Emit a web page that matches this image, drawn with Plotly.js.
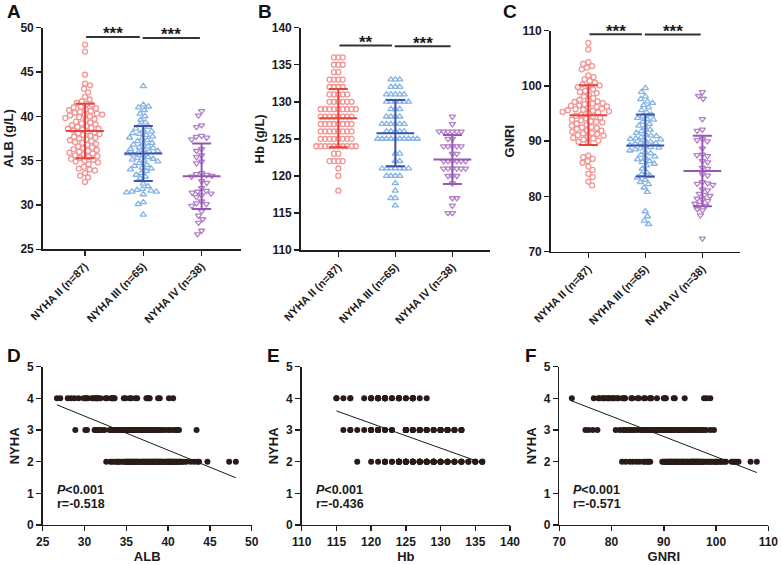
<!DOCTYPE html>
<html>
<head>
<meta charset="utf-8">
<script src="https://cdn.plot.ly/plotly-3.0.1.min.js"></script>
<style>
  html, body { margin: 0; padding: 0; background: #fff; }
  #chart { width: 782px; height: 565px; }
</style>
</head>
<body>
<div id="chart"></div>
<script>
// NYHA groups and their class number
const groups = ['NYHA II (n=87)', 'NYHA III (n=65)', 'NYHA IV (n=38)'];
const nyhaClass = [2, 3, 4];

// Serum albumin (g/L)
const albII = [48.1, 47.3, 44.7, 43.7, 43.5, 43.1, 42.7, 42.2,
  41.9, 41.7, 41.5, 41.4, 41.3, 41.1, 41.0,
  40.9, 40.8, 40.7, 40.5, 40.4, 40.3, 40.2, 40.2, 40.1, 40.0, 40.6,
  39.9, 39.8, 39.7, 39.6, 39.4, 39.3, 39.2, 39.1, 39.0, 35.6,
  38.9, 38.8, 38.7, 38.6, 38.5, 38.4, 38.3, 38.2, 38.1, 38.0, 38.6,
  37.9, 37.8, 37.6, 37.5, 37.4, 37.3, 37.2, 37.1, 37.0, 37.7,
  36.9, 36.8, 36.6, 36.5, 36.4, 36.3, 36.2, 36.1, 36.0,
  35.9, 35.8, 35.7, 35.5, 35.4, 35.3, 35.2, 35.1, 35.0,
  34.9, 34.8, 34.6, 34.3, 34.1, 34.0,
  33.9, 33.6, 33.3, 33.1, 32.6];
const albIII = [43.4, 41.3, 41.1, 41.0, 40.7, 40.3, 40.0, 39.6, 39.3, 39.0,
  38.8, 38.6, 38.4, 38.3, 38.1, 38.0,
  37.9, 37.7, 37.5, 37.3, 37.2, 37.0, 37.6,
  36.9, 36.8, 36.6, 36.5, 36.4, 36.3, 36.2, 36.1, 36.0,
  35.9, 35.8, 35.7, 35.6, 35.4, 35.3, 35.2, 35.1, 35.0,
  34.9, 34.7, 34.5, 34.4, 34.2, 34.1, 34.0,
  33.8, 33.6, 33.4, 33.2, 33.0, 32.4, 32.1,
  31.8, 31.7, 31.6, 31.5, 31.5, 31.4, 31.2, 30.3, 30.1, 28.9];
const albIV = [40.6, 40.1, 39.0, 38.8, 37.8, 37.7, 37.6, 37.4, 36.3, 36.1,
  35.6, 35.4, 34.9, 34.7, 33.6, 33.5, 33.4, 33.3, 33.2, 32.7, 32.5,
  31.9, 31.6, 31.5, 31.4, 31.3, 31.1, 30.9, 30.4, 30.2, 30.1,
  29.9, 29.3, 28.8, 28.0, 28.4, 27.1, 26.7];

// Haemoglobin (g/L)
const hbII = [136, 136, 136, 135, 135, 135, 134, 134,
  133, 133, 133, 133, 132, 132, 132, 132,
  131, 131, 131, 131, 131, 130, 130, 130, 130, 130, 130,
  129, 129, 129, 129, 129, 129, 129, 129, 129,
  128, 128, 128, 128, 128, 128, 128, 128,
  127, 127, 127, 127, 127, 127, 127, 127,
  126, 126, 126, 126, 126, 126, 126, 126,
  125, 125, 125, 125, 125, 125, 125, 125,
  124, 124, 124, 124, 124, 124, 124, 124, 124, 124,
  123, 123, 122, 122, 122, 122, 121, 120, 118];
const hbIII = [133, 133, 133, 132, 132, 132, 131, 131, 131, 131, 131,
  130, 130, 130, 130, 130, 130, 129, 129, 129, 128, 128, 128, 128,
  127, 127, 127, 127, 127, 127, 126, 126, 126, 126, 126,
  125, 125, 125, 125, 125, 125, 125, 125, 125, 125,
  123, 123, 122, 122, 121, 121, 121, 121, 121, 121, 121,
  120, 120, 120, 120, 119, 118, 117, 117, 116];
const hbIV = [128, 127, 126, 126, 126, 126, 126, 126, 125, 125,
  124, 124, 124, 124, 124, 123, 123, 122, 122, 122, 122, 122, 122,
  121, 121, 121, 121, 121, 121, 120, 120, 120, 119, 117, 117, 116, 115, 115];

// Geriatric nutritional risk index
const gnriII = [107.8, 106.6, 104.3, 104.0, 103.6, 103.3, 103.0, 101.9, 101.6, 101.2, 100.9, 100.3, 100.1,
  100.6, 99.8, 99.4, 99.1, 98.7, 98.4, 98.1, 97.8, 97.5, 97.4, 97.2, 97.1, 99.9, 98.9,
  96.9, 96.8, 96.7, 96.5, 96.4, 96.3, 96.2, 96.0, 95.9, 95.8, 95.7, 95.6, 95.5, 95.4, 95.3, 95.2,
  95.0, 94.8, 94.6, 94.5,
  94.3, 94.1, 93.9, 93.8, 93.6, 93.5, 93.4, 93.2, 93.0, 92.8, 92.6, 92.5, 92.4, 92.2, 92.0,
  91.9, 91.7, 91.5, 91.4, 91.3, 91.1, 91.0, 90.8, 90.6, 90.5, 90.3, 90.1, 89.9, 89.7,
  87.4, 87.1, 86.8, 86.4, 86.1, 85.4, 84.8, 84.1, 83.5, 82.7, 82.0];
const gnriIII = [99.6, 98.9, 98.1, 97.6, 97.2, 96.9, 96.5, 96.1, 95.6, 95.2,
  94.8, 94.5, 94.2, 94.0, 93.9, 93.5, 93.1, 92.8, 92.5, 92.1, 91.8,
  91.5, 91.2, 91.0, 90.9, 90.7, 90.5, 90.4, 90.3, 90.1, 89.9, 89.7, 89.6, 89.5,
  89.3, 89.1, 88.9, 88.8, 88.7, 88.5, 88.3, 88.0, 87.8, 87.5, 87.2,
  87.0, 86.7, 86.4, 86.2, 85.9, 85.6, 85.0, 84.4,
  84.0, 83.7, 83.4, 83.0, 82.6, 82.2, 81.6, 80.8, 77.3, 76.4, 75.6, 75.0];
const gnriIV = [98.9, 98.2, 97.7, 94.0, 92.1, 91.9, 90.4, 90.2, 90.0, 88.7,
  87.6, 87.5, 87.3, 86.4, 86.2, 85.2, 85.0, 84.0, 83.8,
  82.6, 82.4, 82.3, 82.1, 81.3, 81.1, 80.5, 80.3, 80.1,
  79.6, 79.4, 79.2, 78.7, 78.5, 78.3, 77.7, 77.5, 76.6, 72.4];

// Significance marks between neighbouring groups
const sigLabels = [['***', '***'], ['**', '***'], ['***', '***']];
const corrP = ['&lt;0.001', '&lt;0.001', '&lt;0.001'];
const corrR = ['-0.518', '-0.436', '-0.571'];

// ---------------------------------------------------------------- layout setup
const W = 782, H = 565;
const font = { family: 'Liberation Sans, Arial, sans-serif', color: '#1a1a1a', weight: 700 };
const pointColors = ['#F39393', '#86B5E6', '#B482C8'];
const lineColors = ['#E8423D', '#3B52A8', '#9657B3'];
const symbols = ['circle-open', 'triangle-up-open', 'triangle-down-open'];

const panels = [
  { data: [albII, albIII, albIV], title: 'ALB (g/L)', xname: 'ALB',
    xdom: [0.0546, 0.3078], ydom: [0.5588, 0.951], xr: [-0.725, 2.67], yr: [25, 50], dtick: 5,
    sigY: [48.95, 48.85], bx: [25, 50], bdtick: 5, bxdom: [0.0546, 0.3219], letter: 'A', blabel: 'D',
    diam: 5.4 },
  { data: [hbII, hbIII, hbIV], title: 'Hb (g/L)', xname: 'Hb',
    xdom: [0.3845, 0.6266], ydom: [0.5575, 0.951], xr: [-0.66, 2.66], yr: [110, 140], dtick: 5,
    sigY: [137.6, 137.5], bx: [110, 140], bdtick: 5, bxdom: [0.3858, 0.6522], letter: 'B', blabel: 'E',
    diam: 4.4 },
  { data: [gnriII, gnriIII, gnriIV], title: 'GNRI', xname: 'GNRI',
    xdom: [0.7042, 0.9463], ydom: [0.5545, 0.9457], xr: [-0.66, 2.66], yr: [70, 110], dtick: 10,
    sigY: [109.35, 109.3], bx: [70, 110], bdtick: 10, bxdom: [0.7152, 0.9825], letter: 'C', blabel: 'F',
    diam: 5.4 }
];
const sigSpans = [[0.02, 0.94], [0.99, 1.97]];
const letterPos = { A: [14, 12], B: [265, 12], C: [510, 12], D: [14, 355], E: [273, 355], F: [531, 355] };
const bottomYDom = [0.0708, 0.351];

// Beeswarm: place each point as close to the group centre as possible without overlap
function swarm(values, pxX, pxY, diam) {
  const order = values.map((v, i) => i).sort((a, b) => values[b] - values[a]);
  const placed = [];
  const off = new Array(values.length);
  order.forEach((i, k) => {
    const y = values[i] * pxY;
    const near = placed.filter(p => Math.abs(p.y - y) < diam);
    const cands = [0];
    near.forEach(p => {
      const dx = Math.sqrt(diam * diam - (p.y - y) * (p.y - y));
      cands.push(p.x + dx, p.x - dx);
    });
    const side = k % 2 ? 1 : -1;
    cands.sort((a, b) => (Math.abs(a) - Math.abs(b)) || (side * (a - b)));
    const x = cands.find(c => near.every(p => (p.x - c) ** 2 + (p.y - y) ** 2 >= diam * diam - 1e-6));
    placed.push({ x, y });
    off[i] = x / pxX;
  });
  return off;
}

const mean = a => a.reduce((s, v) => s + v, 0) / a.length;
const sd = a => { const m = mean(a); return Math.sqrt(a.reduce((s, v) => s + (v - m) ** 2, 0) / (a.length - 1)); };

const traces = [];
const layout = {
  width: W, height: H,
  margin: { l: 0, r: 0, t: 0, b: 0 },
  paper_bgcolor: '#fff', plot_bgcolor: '#fff',
  showlegend: false,
  font: font,
  shapes: [], annotations: []
};

function axisBase() {
  return {
    showline: true, linecolor: '#1e1e1e', linewidth: 1.5,
    ticks: 'outside', ticklen: 5, tickwidth: 1.5, tickcolor: '#1e1e1e',
    showgrid: false, zeroline: false, fixedrange: true,
    tickfont: { family: font.family, size: 12, color: '#1a1a1a', weight: 700 }
  };
}

panels.forEach((p, k) => {
  const n = k + 1, nb = k + 4;
  const xs = n === 1 ? '' : String(n);
  const xa = 'xaxis' + xs, ya = 'yaxis' + xs;
  const xb = 'xaxis' + nb, yb = 'yaxis' + nb;

  // ---- top panel: group dot plot
  layout[xa] = Object.assign(axisBase(), {
    domain: p.xdom, range: p.xr, anchor: 'y' + xs,
    tickvals: [0, 1, 2], ticktext: groups, tickangle: -45,
    tickfont: { family: font.family, size: 11, color: '#1a1a1a', weight: 700 }
  });
  layout[ya] = Object.assign(axisBase(), {
    domain: p.ydom, range: p.yr, dtick: p.dtick, anchor: 'x' + xs,
    title: { text: p.title, standoff: 4, font: { family: font.family, size: 13, color: '#1a1a1a', weight: 700 } }
  });
  const pxX = (p.xdom[1] - p.xdom[0]) * W / (p.xr[1] - p.xr[0]);
  const pxY = (p.ydom[1] - p.ydom[0]) * H / (p.yr[1] - p.yr[0]);

  p.data.forEach((vals, g) => {
    const off = swarm(vals, pxX, pxY, p.diam);
    traces.push({
      type: 'scatter', mode: 'markers', xaxis: 'x' + xs, yaxis: 'y' + xs,
      x: vals.map((v, i) => g + off[i]), y: vals, cliponaxis: false,
      marker: { symbol: symbols[g], size: g === 0 ? 5 : 5.6, color: pointColors[g],
                line: { color: pointColors[g], width: 1.3 } },
      hoverinfo: 'skip'
    });
  });
  p.data.forEach((vals, g) => {
    traces.push({
      type: 'scatter', mode: 'markers', xaxis: 'x' + xs, yaxis: 'y' + xs,
      x: [g], y: [mean(vals)], cliponaxis: false,
      marker: { symbol: 'line-ew-open', size: 27, color: lineColors[g],
                line: { color: lineColors[g], width: 2 } },
      error_y: { type: 'data', array: [sd(vals)], visible: true, color: lineColors[g], thickness: 2, width: 9.5 },
      hoverinfo: 'skip'
    });
  });

  sigSpans.forEach((s, j) => {
    layout.shapes.push({ type: 'line', xref: 'x' + xs, yref: 'y' + xs,
      x0: s[0], x1: s[1], y0: p.sigY[j], y1: p.sigY[j], line: { color: '#333', width: 2 } });
    layout.annotations.push({ xref: 'x' + xs, yref: 'y' + xs, x: (s[0] + s[1]) / 2, y: p.sigY[j],
      text: sigLabels[k][j], showarrow: false, yanchor: 'middle', yshift: 3,
      font: { family: font.family, size: 17, color: '#1a1a1a', weight: 700 } });
  });

  // ---- bottom panel: NYHA class against the marker, with least-squares line
  layout[xb] = Object.assign(axisBase(), {
    domain: p.bxdom, range: p.bx, dtick: p.bdtick, anchor: 'y' + nb,
    title: { text: p.xname, standoff: 4, font: { family: font.family, size: 13, color: '#1a1a1a', weight: 700 } }
  });
  layout[yb] = Object.assign(axisBase(), {
    domain: bottomYDom, range: [0, 5], dtick: 1, anchor: 'x' + nb,
    title: { text: 'NYHA', standoff: 4, font: { family: font.family, size: 13, color: '#1a1a1a', weight: 700 } }
  });
  const allX = [], allY = [];
  p.data.forEach((vals, g) => vals.forEach(v => { allX.push(v); allY.push(nyhaClass[g]); }));
  traces.push({
    type: 'scatter', mode: 'markers', xaxis: 'x' + nb, yaxis: 'y' + nb,
    x: allX, y: allY, cliponaxis: false,
    marker: { symbol: 'circle', size: 6, color: '#2a1b18' }, hoverinfo: 'skip'
  });
  const mx = mean(allX), my = mean(allY);
  let sxy = 0, sxx = 0;
  allX.forEach((x, i) => { sxy += (x - mx) * (allY[i] - my); sxx += (x - mx) ** 2; });
  const slope = sxy / sxx, icpt = my - slope * mx;
  const xmin = Math.min(...allX), xmax = Math.max(...allX);
  traces.push({
    type: 'scatter', mode: 'lines', xaxis: 'x' + nb, yaxis: 'y' + nb,
    x: [xmin, xmax], y: [icpt + slope * xmin, icpt + slope * xmax],
    line: { color: '#1a1a1a', width: 1 }, hoverinfo: 'skip'
  });
  const x0 = p.bxdom[0] + 12 / W;
  layout.annotations.push({ xref: 'paper', yref: 'paper', x: x0, y: 1 - 490 / H, xanchor: 'left', yanchor: 'middle',
    text: '<i>P</i>' + corrP[k], showarrow: false, font: { family: font.family, size: 12.5, color: '#1a1a1a', weight: 700 } });
  layout.annotations.push({ xref: 'paper', yref: 'paper', x: x0, y: 1 - 503.5 / H, xanchor: 'left', yanchor: 'middle',
    text: 'r=' + corrR[k], showarrow: false, font: { family: font.family, size: 12.5, color: '#1a1a1a', weight: 700 } });

  [p.letter, p.blabel].forEach(L => {
    layout.annotations.push({ xref: 'paper', yref: 'paper', x: letterPos[L][0] / W, y: 1 - letterPos[L][1] / H,
      xanchor: 'center', yanchor: 'middle', text: L, showarrow: false,
      font: { family: font.family, size: 19, color: '#111', weight: 700 } });
  });
});

Plotly.newPlot('chart', traces, layout, { staticPlot: true });
</script>
</body>
</html>
